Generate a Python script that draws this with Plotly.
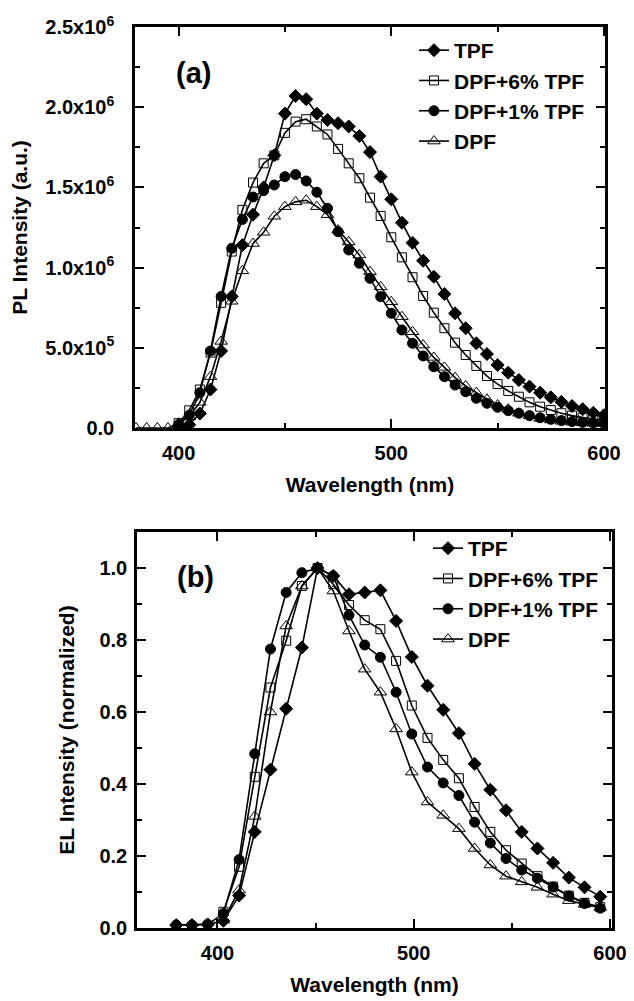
import plotly.graph_objects as go

# ---------------- Data: (a) PL spectra ----------------
pl_wl = [400, 405, 410, 415, 420, 425, 430, 435, 440, 445, 450, 455, 460, 465, 470,
         475, 480, 485, 490, 495, 500, 505, 510, 515, 520, 525, 530, 535, 540, 545,
         550, 555, 560, 565, 570, 575, 580, 585, 590, 595, 600]
pl_dpf_wl = [380, 385, 390, 395, 400, 405, 410, 415, 420, 425, 430, 435, 440, 445, 450,
             455, 460, 465, 470, 475, 480, 485, 490, 495, 500, 505, 510, 515, 520, 525,
             530, 535, 540, 545, 550, 555, 560, 565, 570, 575, 580, 585, 590, 595, 600]

pl_tpf = [0.0, 0.02e6, 0.09e6, 0.24e6, 0.48e6, 0.82e6, 1.14e6, 1.33e6, 1.50e6, 1.70e6,
          1.96e6, 2.07e6, 2.05e6, 1.96e6, 1.92e6, 1.90e6, 1.88e6, 1.82e6, 1.72e6, 1.567e6,
          1.426e6, 1.28e6, 1.155e6, 1.043e6, 0.943e6, 0.835e6, 0.715e6, 0.622e6, 0.528e6,
          0.461e6, 0.393e6, 0.345e6, 0.299e6, 0.258e6, 0.22e6, 0.191e6, 0.163e6, 0.137e6,
          0.117e6, 0.095e6, 0.08e6]
pl_dpf6 = [0.03e6, 0.11e6, 0.24e6, 0.47e6, 0.78e6, 1.10e6, 1.36e6, 1.53e6, 1.65e6, 1.70e6,
           1.84e6, 1.91e6, 1.925e6, 1.88e6, 1.83e6, 1.74e6, 1.65e6, 1.557e6, 1.436e6,
           1.322e6, 1.189e6, 1.064e6, 0.94e6, 0.823e6, 0.719e6, 0.622e6, 0.532e6, 0.455e6,
           0.387e6, 0.324e6, 0.274e6, 0.231e6, 0.195e6, 0.16e6, 0.133e6, 0.112e6, 0.092e6,
           0.077e6, 0.064e6, 0.054e6, 0.05e6]
pl_dpf1 = [0.02e6, 0.08e6, 0.22e6, 0.48e6, 0.82e6, 1.12e6, 1.30e6, 1.44e6, 1.48e6, 1.515e6,
           1.567e6, 1.58e6, 1.54e6, 1.47e6, 1.37e6, 1.224e6, 1.11e6, 1.027e6, 0.933e6,
           0.819e6, 0.715e6, 0.611e6, 0.528e6, 0.449e6, 0.382e6, 0.32e6, 0.268e6, 0.226e6,
           0.185e6, 0.154e6, 0.129e6, 0.108e6, 0.092e6, 0.077e6, 0.064e6, 0.054e6, 0.046e6,
           0.04e6, 0.035e6, 0.031e6, 0.028e6]
pl_dpf = [0.0, 0.0, 0.0, 0.0, 0.03e6, 0.07e6, 0.16e6, 0.32e6, 0.54e6, 0.79e6, 0.98e6,
          1.15e6, 1.22e6, 1.32e6, 1.38e6, 1.41e6, 1.42e6, 1.38e6, 1.33e6, 1.234e6, 1.16e6,
          1.079e6, 0.975e6, 0.88e6, 0.787e6, 0.694e6, 0.60e6, 0.517e6, 0.44e6, 0.378e6,
          0.314e6, 0.262e6, 0.22e6, 0.179e6, 0.143e6, 0.117e6, 0.092e6, 0.077e6, 0.06e6,
          0.05e6, 0.042e6, 0.036e6, 0.032e6, 0.03e6, 0.028e6]

# ---------------- Data: (b) EL spectra ----------------
el_wl = [379, 387, 395, 403, 411, 419, 427, 435, 443, 451, 459, 467, 475, 483, 491,
         499, 507, 515, 523, 531, 539, 547, 555, 563, 571, 579, 587, 595]
el_wl_short = [403, 411, 419, 427, 435, 443, 451, 459, 467, 475, 483, 491, 499, 507,
               515, 523, 531, 539, 547, 555, 563, 571, 579, 587, 595]

el_tpf = [0.008, 0.008, 0.01, 0.02, 0.09, 0.267, 0.44, 0.609, 0.779, 1.0, 0.978, 0.927,
          0.932, 0.938, 0.853, 0.753, 0.673, 0.606, 0.541, 0.456, 0.384, 0.327, 0.267,
          0.221, 0.181, 0.140, 0.113, 0.087]
el_dpf1 = [0.008, 0.008, 0.01, 0.04, 0.19, 0.484, 0.775, 0.932, 0.987, 1.0, 0.978, 0.869,
           0.786, 0.752, 0.655, 0.539, 0.447, 0.403, 0.368, 0.294, 0.236, 0.193, 0.161,
           0.138, 0.114, 0.089, 0.068, 0.055]
el_dpf6 = [0.045, 0.17, 0.42, 0.668, 0.798, 0.95, 1.0, 0.955, 0.897, 0.855, 0.830, 0.742,
           0.618, 0.528, 0.467, 0.416, 0.336, 0.267, 0.216, 0.179, 0.144, 0.115, 0.09,
           0.07, 0.058]
el_dpf = [0.022, 0.105, 0.31, 0.60, 0.839, 0.95, 1.0, 0.936, 0.825, 0.719, 0.655, 0.553,
          0.433, 0.35, 0.313, 0.276, 0.221, 0.175, 0.144, 0.128, 0.113, 0.094, 0.076,
          0.066, 0.057]

series_names = ["TPF", "DPF+6% TPF", "DPF+1% TPF", "DPF"]

pl_ytickvals = [0, 0.5e6, 1.0e6, 1.5e6, 2.0e6, 2.5e6]
pl_yticktext = ["0.0", "5.0x10<sup>5</sup>", "1.0x10<sup>6</sup>", "1.5x10<sup>6</sup>",
                "2.0x10<sup>6</sup>", "2.5x10<sup>6</sup>"]

# ---------------- Styles ----------------
FONT = "Liberation Sans, Arial, sans-serif"
styles = [
    dict(symbol="diamond", size=10, color="black", line=dict(color="black", width=1)),
    dict(symbol="square-open", size=9, color="black", line=dict(color="black", width=1)),
    dict(symbol="circle", size=10, color="black", line=dict(color="black", width=1)),
    dict(symbol="triangle-up-open", size=11, color="black", line=dict(color="black", width=1)),
]

fig = go.Figure()

pl_sets = [(pl_wl, pl_tpf), (pl_wl, pl_dpf6), (pl_wl, pl_dpf1), (pl_dpf_wl, pl_dpf)]
for i, (xs, ys) in enumerate(pl_sets):
    fig.add_trace(go.Scatter(
        x=xs, y=ys, mode="lines+markers", name=series_names[i],
        line=dict(color="black", width=1.6),
        marker=styles[i], xaxis="x", yaxis="y",
        legend="legend", legendgroup="a%d" % i))

el_sets = [(el_wl, el_tpf), (el_wl_short, el_dpf6), (el_wl, el_dpf1), (el_wl_short, el_dpf)]
for i, (xs, ys) in enumerate(el_sets):
    fig.add_trace(go.Scatter(
        x=xs, y=ys, mode="lines+markers", name=series_names[i],
        line=dict(color="black", width=1.6),
        marker=styles[i], xaxis="x2", yaxis="y2",
        legend="legend2", legendgroup="b%d" % i))

# page has an 8px body margin: figure spans (8..634, 8..1001) of the window
OFF = 8
FW, FH = 634 - OFF, 1001 - OFF


def px(x):
    return (x - OFF) / FW


def py(y):
    return 1 - (y - OFF) / FH


tickfont = dict(family=FONT, size=20, color="black", weight="bold")
titlefont = dict(family=FONT, size=21, color="black", weight="bold")

axis_common = dict(
    showline=True, linewidth=2.5, linecolor="black", mirror="ticks",
    ticks="inside", ticklen=9, tickwidth=2, tickcolor="black",
    showgrid=False, zeroline=False, tickfont=tickfont, automargin=False,
)

fig.update_layout(
    width=FW, height=FH,
    margin=dict(l=0, r=0, t=0, b=0, autoexpand=False),
    paper_bgcolor="white", plot_bgcolor="white",
    showlegend=True,
    xaxis=dict(axis_common, domain=[px(135), px(605)], range=[379.5, 600.5],
               tick0=400, dtick=100, ticklabelstandoff=5,
               minor=dict(ticks="inside", ticklen=5, tickwidth=1.5, dtick=50,
                          tick0=400, tickcolor="black"),
               title=dict(text="Wavelength (nm)", font=titlefont, standoff=15),
               anchor="y"),
    yaxis=dict(axis_common, domain=[py(428), py(27)], range=[0, 2.5e6],
               tickvals=pl_ytickvals, ticktext=pl_yticktext, ticklabelstandoff=14,
               minor=dict(ticks="inside", ticklen=5, tickwidth=1.5, dtick=0.25e6,
                          tickcolor="black"),
               title=dict(text="PL Intensity (a.u.)", font=titlefont, standoff=12),
               anchor="x"),
    xaxis2=dict(axis_common, domain=[px(137), px(612)], range=[359, 601],
                tick0=400, dtick=100, ticklabelstandoff=5,
                minor=dict(ticks="inside", ticklen=5, tickwidth=1.5, dtick=50,
                           tick0=400, tickcolor="black"),
                title=dict(text="Wavelength (nm)", font=titlefont, standoff=15),
                anchor="y2"),
    yaxis2=dict(axis_common, domain=[py(928), py(532)], range=[0, 1.1],
                tick0=0, dtick=0.2, tickformat=".1f", ticklabelstandoff=3,
                minor=dict(ticks="inside", ticklen=5, tickwidth=1.5, dtick=0.1,
                           tickcolor="black"),
                title=dict(text="EL Intensity (normalized)", font=titlefont, standoff=20),
                anchor="x2"),
    legend=dict(x=px(414), y=py(30), xanchor="left", yanchor="top",
                bgcolor="rgba(0,0,0,0)", borderwidth=0, tracegroupgap=0,
                font=dict(family=FONT, size=21, color="black", weight="bold"),
                itemwidth=30),
    legend2=dict(x=px(428), y=py(528), xanchor="left", yanchor="top",
                 bgcolor="rgba(0,0,0,0)", borderwidth=0, tracegroupgap=0,
                 font=dict(family=FONT, size=21, color="black", weight="bold"),
                 itemwidth=30),
    annotations=[
        dict(text="(a)", x=px(193), y=py(73), xref="paper", yref="paper",
             xanchor="center", yanchor="middle", showarrow=False,
             font=dict(family=FONT, size=29, color="black", weight="bold")),
        dict(text="(b)", x=px(195), y=py(577), xref="paper", yref="paper",
             xanchor="center", yanchor="middle", showarrow=False,
             font=dict(family=FONT, size=29, color="black", weight="bold")),
    ],
)

fig.write_html("out.html")
